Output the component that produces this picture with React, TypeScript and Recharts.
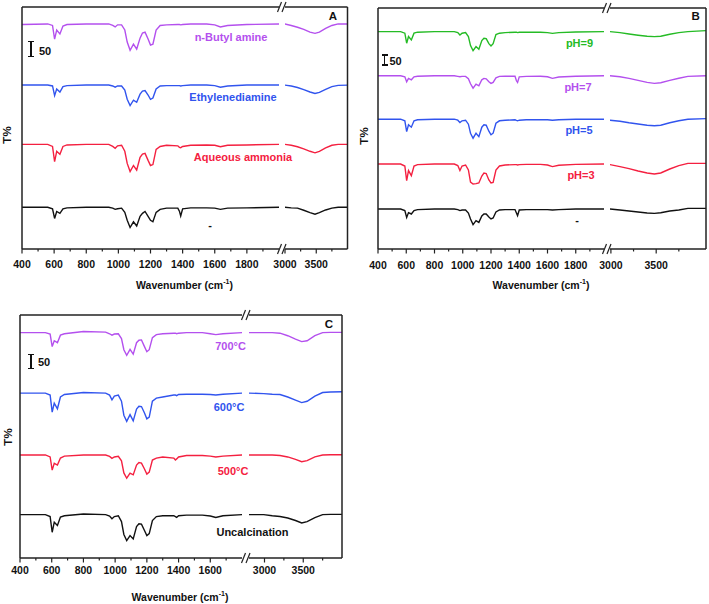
import { LineChart, Line, XAxis, YAxis } from "recharts";

const FONT = "'Liberation Sans', Arial, sans-serif";
const FRAME = "#222";
const PURPLE = "#b450ee";
const BLUE = "#3154ee";
const RED = "#f42040";
const GREEN = "#25bb25";
const BLACK = "#111111";

// wavenumbers (cm-1) sampled on the two sides of the axis break
const LEFT_WN = [400, 560, 590, 603, 616, 636, 655, 680, 800, 940, 965, 980, 995, 1020, 1040, 1055, 1073, 1094, 1114, 1135, 1150, 1166, 1185, 1200, 1215, 1235, 1260, 1300, 1370, 1380, 1388, 1400, 1450, 1550, 1600, 1635, 1680, 1800, 2000];
const RIGHT_WN = [2800, 2990, 3100, 3200, 3300, 3400, 3480, 3550, 3650, 3750, 3850, 4050];

// band depth below each trace's baseline (T% units, scale bar = 50)
// panel A: amine source
const A_BUTYL_L = [2, 0, 5, 50, 20, 33, 7, 2, 0, 0, 5, 10, 3, 3, 20, 60, 87, 67, 83, 47, 30, 27, 50, 70, 67, 20, 5, 3, 2, 2, 3, 2, 0, 0, 3, 10, 5, 2, 0];
const A_ETHYL_L = [0, 0, 3, 35, 13, 23, 5, 2, 0, 0, 3, 7, 3, 3, 17, 47, 68, 50, 57, 30, 20, 18, 33, 47, 43, 13, 3, 2, 2, 2, 3, 2, 0, 0, 2, 7, 3, 0, 0];
const A_AMMON_L = [0, 0, 7, 57, 23, 33, 7, 2, 0, 0, 7, 13, 5, 3, 23, 63, 90, 70, 85, 43, 32, 30, 53, 70, 67, 17, 7, 3, 5, 10, 11, 7, 3, 2, 3, 8, 3, 2, 0];
const A_NONE_L = [0, 0, 5, 37, 14, 20, 5, 2, 0, 0, 3, 7, 5, 3, 17, 43, 67, 48, 62, 30, 20, 14, 30, 43, 48, 17, 7, 3, 3, 13, 29, 5, 2, 2, 3, 7, 3, 2, 0];
const A_BUTYL_R = [0, 0, 5, 11, 18, 27, 31, 27, 15, 5, 0, 0];
const A_ETHYL_R = [0, 0, 3, 8, 15, 23, 28, 24, 14, 5, 1, 0];
const A_AMMON_R = [0, 0, 3, 8, 15, 23, 28, 23, 12, 3, 0, 0];
const A_NONE_R = [0, 0, 2, 3, 10, 18, 23, 18, 9, 3, 0, 0];
const A_OFFSETS = [744, 542, 346, 138];

// panel B: pH
const B_PH9_L = [0, 0, 8, 58, 25, 42, 8, 3, 0, 0, 5, 17, 8, 5, 25, 70, 95, 75, 88, 45, 33, 35, 60, 72, 60, 15, 8, 5, 3, 3, 5, 3, 3, 3, 5, 9, 5, 2, 0];
const B_PH7_L = [0, 0, 5, 30, 13, 20, 5, 2, 0, 0, 3, 5, 3, 3, 15, 40, 62, 42, 50, 20, 13, 15, 30, 38, 33, 10, 3, 2, 2, 25, 33, 5, 3, 2, 5, 13, 6, 2, 0];
const B_PH5_L = [0, 0, 8, 62, 28, 40, 8, 3, 0, 0, 5, 17, 8, 5, 25, 70, 95, 70, 87, 40, 28, 30, 60, 78, 70, 20, 8, 5, 3, 6, 8, 5, 3, 3, 3, 5, 3, 0, 0];
const B_PH3_L = [0, 0, 10, 83, 33, 58, 10, 3, 0, 0, 8, 33, 10, 5, 30, 90, 100, 98, 95, 60, 45, 48, 80, 95, 92, 30, 10, 5, 3, 3, 5, 3, 2, 2, 5, 13, 6, 2, 0];
const B_NONE_L = [0, 0, 8, 42, 18, 25, 8, 3, 0, 0, 3, 8, 5, 5, 20, 50, 78, 58, 67, 35, 25, 25, 40, 50, 45, 15, 5, 3, 3, 20, 33, 5, 3, 3, 3, 5, 3, 0, 0];
const B_PH9_R = [0, 0, 5, 12, 18, 23, 25, 23, 13, 5, 0, -5];
const B_PH7_R = [0, 0, 5, 13, 23, 33, 38, 35, 23, 12, 3, 0];
const B_PH5_R = [0, 5, 10, 18, 24, 30, 33, 30, 18, 8, 0, -3];
const B_PH3_R = [0, 3, 13, 23, 35, 45, 50, 45, 25, 8, -3, -3];
const B_NONE_R = [0, 0, 5, 10, 15, 20, 22, 19, 10, 5, -3, -3];
const B_OFFSETS = [1087, 866, 649, 425, 200];

// panel C: calcination temperature
const C_700_L = [0, 0, 5, 50, 29, 36, 9, 4, -4, -2, 4, 9, 5, 4, 21, 61, 81, 60, 77, 36, 27, 26, 50, 68, 61, 18, 7, 4, 2, 2, 4, 2, 0, 0, 4, 7, 4, 0, 0];
const C_600_L = [0, 0, 7, 68, 36, 56, 14, 5, -2, 0, 7, 24, 11, 7, 29, 79, 101, 77, 99, 57, 47, 48, 71, 92, 86, 29, 18, 14, 7, 7, 9, 5, 4, 4, 5, 7, 4, 0, 0];
const C_500_L = [0, 0, 7, 54, 30, 36, 11, 4, 0, 0, 5, 12, 7, 5, 21, 64, 83, 65, 71, 36, 27, 29, 50, 68, 61, 18, 11, 7, 11, 18, 14, 7, 2, 2, 4, 7, 4, 0, 0];
const C_UNC_L = [0, 0, 7, 63, 27, 39, 9, 4, -2, 0, 5, 15, 7, 4, 25, 71, 93, 75, 87, 43, 33, 34, 57, 75, 68, 21, 7, 4, 4, 7, 10, 4, 2, 2, 5, 10, 4, 0, 0];
const C_700_R = [0, 0, 0, 2, 11, 23, 32, 29, 11, 0, -1, -1];
const C_600_R = [0, 2, 4, 5, 14, 25, 34, 29, 11, -2, -4, -5];
const C_500_R = [0, 0, 0, 2, 7, 16, 24, 20, 7, 0, -1, -1];
const C_UNC_R = [0, 0, 4, 7, 12, 21, 30, 25, 11, 0, -1, -1];
const C_OFFSETS = [805, 589, 368, 155];

const LEFT_MAJOR_2000 = [400, 600, 800, 1000, 1200, 1400, 1600, 1800];
const LEFT_MINOR_2000 = [500, 700, 900, 1100, 1300, 1500, 1700, 1900];
const LEFT_MAJOR_1800 = [400, 600, 800, 1000, 1200, 1400, 1600];
const LEFT_MINOR_1800 = [500, 700, 900, 1100, 1300, 1500, 1700];
const RIGHT_MAJOR = [3000, 3500];
const RIGHT_MINOR = [3250, 3750];

type Label = { text: string; x: number; y: number; color: string };

type PanelCfg = {
  top: number;
  bottom: number;
  lx0: number;
  lx1: number;
  rx0: number;
  rx1: number;
  leftDomain: [number, number];
  rightDomain: [number, number];
  leftMajor: number[];
  leftMinor: number[];
  yMax: number;
  colors: string[];
  offsets: number[];
  left: number[][];
  right: number[][];
  labelOff: number;
  labels: Label[];
  letter: { text: string; x: number; y: number };
  yTitle: { x: number; y: number };
  xTitle: { x: number; y: number };
  bar: { x: number; y1: number; y2: number; tx: number; ty: number };
};

function rows(wn: number[], series: number[][], offsets: number[]) {
  return wn.map((w, i) => {
    const r: Record<string, number> = { w };
    series.forEach((s, k) => {
      r["s" + k] = offsets[k] - s[i];
    });
    return r;
  });
}

function AxisTick(props: any) {
  const { x, y, payload, major, off } = props;
  const isMajor = major.includes(payload.value);
  return (
    <g>
      <line x1={x} x2={x} y1={y} y2={y + (isMajor ? 4.5 : 2.5)} stroke={FRAME} strokeWidth={1.2} />
      {isMajor && (
        <text x={x} y={y + off + 4} textAnchor="middle" fontFamily={FONT} fontWeight="bold" fontSize={10.5} fill="#111">
          {payload.value}
        </text>
      )}
    </g>
  );
}

function Segment({
  side,
  x0,
  x1,
  top,
  bottom,
  data,
  domain,
  major,
  minor,
  yMax,
  colors,
  labelOff,
}: {
  side: "left" | "right";
  x0: number;
  x1: number;
  top: number;
  bottom: number;
  data: Record<string, number>[];
  domain: [number, number];
  major: number[];
  minor: number[];
  yMax: number;
  colors: string[];
  labelOff: number;
}) {
  // outer space round the plot; the 1px axes (top, side) eat one pixel of it
  const ML = side === "left" ? 25 : 15;
  const MR = side === "left" ? 4 : 12;
  const MT = 6;
  const XH = 30;
  const w = x1 - x0 + ML + MR;
  const h = bottom - top + MT + XH;
  const ticks = [...major, ...minor].sort((a, b) => a - b);
  const axisStyle = { stroke: FRAME, strokeWidth: 1.5 };
  const margin =
    side === "left"
      ? { top: MT - 1, right: MR, bottom: 0, left: ML - 1 }
      : { top: MT - 1, right: MR - 1, bottom: 0, left: ML };
  return (
    <div style={{ position: "absolute", left: x0 - ML, top: top - MT, width: w, height: h }}>
      <LineChart width={w} height={h} data={data} margin={margin}>
        <XAxis
          xAxisId="b"
          dataKey="w"
          type="number"
          domain={domain}
          allowDataOverflow
          ticks={ticks}
          interval={0}
          tickLine={false}
          tickSize={0}
          tickMargin={0}
          height={XH}
          axisLine={axisStyle}
          tick={(p: any) => <AxisTick {...p} major={major} off={labelOff} />}
        />
        <XAxis
          xAxisId="t"
          orientation="top"
          dataKey="w"
          type="number"
          domain={domain}
          allowDataOverflow
          tick={false}
          tickLine={false}
          height={1}
          axisLine={axisStyle}
        />
        <YAxis
          yAxisId="y"
          orientation={side}
          type="number"
          domain={[0, yMax]}
          tick={false}
          tickLine={false}
          width={1}
          axisLine={axisStyle}
        />
        {colors.map((c, k) => (
          <Line
            key={k}
            xAxisId="b"
            yAxisId="y"
            type="linear"
            dataKey={"s" + k}
            stroke={c}
            strokeWidth={1.4}
            dot={false}
            isAnimationActive={false}
          />
        ))}
      </LineChart>
    </div>
  );
}

function BreakMark({ x, y }: { x: number; y: number }) {
  return (
    <svg width={12} height={12} style={{ position: "absolute", left: x - 6, top: y - 6 }}>
      <line x1={1.5} y1={11} x2={5.5} y2={1} stroke={FRAME} strokeWidth={1.2} />
      <line x1={6} y1={11} x2={10} y2={1} stroke={FRAME} strokeWidth={1.2} />
    </svg>
  );
}

function Text({ x, y, color, size, children }: { x: number; y: number; color: string; size: number; children: any }) {
  return (
    <div
      style={{
        position: "absolute",
        left: x,
        top: y,
        transform: "translate(-50%, -50%)",
        color,
        fontSize: size,
        fontWeight: "bold",
        whiteSpace: "nowrap",
        lineHeight: 1,
      }}
    >
      {children}
    </div>
  );
}

function Panel({ cfg }: { cfg: PanelCfg }) {
  const leftData = rows(LEFT_WN, cfg.left, cfg.offsets);
  const rightData = rows(RIGHT_WN, cfg.right, cfg.offsets);
  const bx = (cfg.lx1 + cfg.rx0) / 2;
  return (
    <>
      <Segment
        side="left"
        x0={cfg.lx0}
        x1={cfg.lx1}
        top={cfg.top}
        bottom={cfg.bottom}
        data={leftData}
        domain={cfg.leftDomain}
        major={cfg.leftMajor}
        minor={cfg.leftMinor}
        yMax={cfg.yMax}
        colors={cfg.colors}
        labelOff={cfg.labelOff}
      />
      <Segment
        side="right"
        x0={cfg.rx0}
        x1={cfg.rx1}
        top={cfg.top}
        bottom={cfg.bottom}
        data={rightData}
        domain={cfg.rightDomain}
        major={RIGHT_MAJOR}
        minor={RIGHT_MINOR}
        yMax={cfg.yMax}
        colors={cfg.colors}
        labelOff={cfg.labelOff}
      />
      <BreakMark x={bx} y={cfg.top} />
      <BreakMark x={bx} y={cfg.bottom} />
      {cfg.labels.map((l, i) => (
        <Text key={i} x={l.x} y={l.y} color={l.color} size={11}>
          {l.text}
        </Text>
      ))}
      <Text x={cfg.letter.x} y={cfg.letter.y} color="#111" size={11.5}>
        {cfg.letter.text}
      </Text>
      <div
        style={{
          position: "absolute",
          left: cfg.yTitle.x,
          top: cfg.yTitle.y,
          transform: "translate(-50%, -50%) rotate(-90deg)",
          fontSize: 11.5,
          fontWeight: "bold",
          color: "#111",
          lineHeight: 1,
          whiteSpace: "nowrap",
        }}
      >
        T%
      </div>
      <Text x={cfg.xTitle.x} y={cfg.xTitle.y} color="#111" size={10.5}>
        Wavenumber (cm<sup style={{ fontSize: 7, verticalAlign: "top", position: "relative", top: -2 }}>-1</sup>)
      </Text>
      <div style={{ position: "absolute", left: cfg.bar.x - 0.75, top: cfg.bar.y1, width: 1.5, height: cfg.bar.y2 - cfg.bar.y1, background: "#111" }} />
      <div style={{ position: "absolute", left: cfg.bar.x - 3, top: cfg.bar.y1 - 0.75, width: 6, height: 1.5, background: "#111" }} />
      <div style={{ position: "absolute", left: cfg.bar.x - 3, top: cfg.bar.y2 - 0.75, width: 6, height: 1.5, background: "#111" }} />
      <div
        style={{
          position: "absolute",
          left: cfg.bar.tx,
          top: cfg.bar.ty,
          transform: "translateY(-50%)",
          fontSize: 11,
          fontWeight: "bold",
          color: "#111",
          lineHeight: 1,
        }}
      >
        50
      </div>
    </>
  );
}

const PANEL_A: PanelCfg = {
  top: 7,
  bottom: 249,
  lx0: 22,
  lx1: 279,
  rx0: 285,
  rx1: 347.5,
  leftDomain: [400, 2000],
  rightDomain: [3000, 4000],
  leftMajor: LEFT_MAJOR_2000,
  leftMinor: LEFT_MINOR_2000,
  yMax: 800,
  colors: [PURPLE, BLUE, RED, BLACK],
  offsets: A_OFFSETS,
  left: [A_BUTYL_L, A_ETHYL_L, A_AMMON_L, A_NONE_L],
  right: [A_BUTYL_R, A_ETHYL_R, A_AMMON_R, A_NONE_R],
  labelOff: 15,
  labels: [
    { text: "n-Butyl amine", x: 231, y: 36.5, color: PURPLE },
    { text: "Ethylenediamine", x: 233, y: 97, color: BLUE },
    { text: "Aqueous ammonia", x: 243, y: 157, color: RED },
    { text: "-", x: 210, y: 225, color: BLACK },
  ],
  letter: { text: "A", x: 333, y: 17 },
  yTitle: { x: 8, y: 135 },
  xTitle: { x: 184.5, y: 285 },
  bar: { x: 31, y1: 41.7, y2: 56.7, tx: 39, ty: 50.5 },
};

const PANEL_B: PanelCfg = {
  top: 8,
  bottom: 249,
  lx0: 378,
  lx1: 604,
  rx0: 610,
  rx1: 706,
  leftDomain: [400, 2000],
  rightDomain: [2990, 4050],
  leftMajor: LEFT_MAJOR_2000,
  leftMinor: LEFT_MINOR_2000,
  yMax: 1205,
  colors: [GREEN, PURPLE, BLUE, RED, BLACK],
  offsets: B_OFFSETS,
  left: [B_PH9_L, B_PH7_L, B_PH5_L, B_PH3_L, B_NONE_L],
  right: [B_PH9_R, B_PH7_R, B_PH5_R, B_PH3_R, B_NONE_R],
  labelOff: 16,
  labels: [
    { text: "pH=9", x: 579.5, y: 43.3, color: GREEN },
    { text: "pH=7", x: 578, y: 87.3, color: PURPLE },
    { text: "pH=5", x: 579, y: 130, color: BLUE },
    { text: "pH=3", x: 581, y: 175, color: RED },
    { text: "-", x: 577, y: 219.5, color: BLACK },
  ],
  letter: { text: "B", x: 695.7, y: 17.3 },
  yTitle: { x: 364.5, y: 135.5 },
  xTitle: { x: 541, y: 285 },
  bar: { x: 384.7, y1: 55, y2: 65, tx: 389.5, ty: 60.5 },
};

const PANEL_C: PanelCfg = {
  top: 315,
  bottom: 558,
  lx0: 20,
  lx1: 242,
  rx0: 249,
  rx1: 342,
  leftDomain: [400, 1800],
  rightDomain: [2800, 4000],
  leftMajor: LEFT_MAJOR_1800,
  leftMinor: LEFT_MINOR_1800,
  yMax: 868,
  colors: [PURPLE, BLUE, RED, BLACK],
  offsets: C_OFFSETS,
  left: [C_700_L, C_600_L, C_500_L, C_UNC_L],
  right: [C_700_R, C_600_R, C_500_R, C_UNC_R],
  labelOff: 12,
  labels: [
    { text: "700°C", x: 230.5, y: 346, color: PURPLE },
    { text: "600°C", x: 229, y: 407, color: BLUE },
    { text: "500°C", x: 233, y: 471, color: RED },
    { text: "Uncalcination", x: 252.5, y: 532, color: BLACK },
  ],
  letter: { text: "C", x: 329, y: 325 },
  yTitle: { x: 9, y: 436.5 },
  xTitle: { x: 180, y: 597 },
  bar: { x: 31, y1: 354.3, y2: 368.3, tx: 38, ty: 362 },
};

export default function App() {
  return (
    <div
      style={{
        position: "absolute",
        left: 0,
        top: 0,
        width: 709,
        height: 604,
        background: "#fff",
        fontFamily: FONT,
        overflow: "hidden",
      }}
    >
      <Panel cfg={PANEL_A} />
      <Panel cfg={PANEL_B} />
      <Panel cfg={PANEL_C} />
    </div>
  );
}
